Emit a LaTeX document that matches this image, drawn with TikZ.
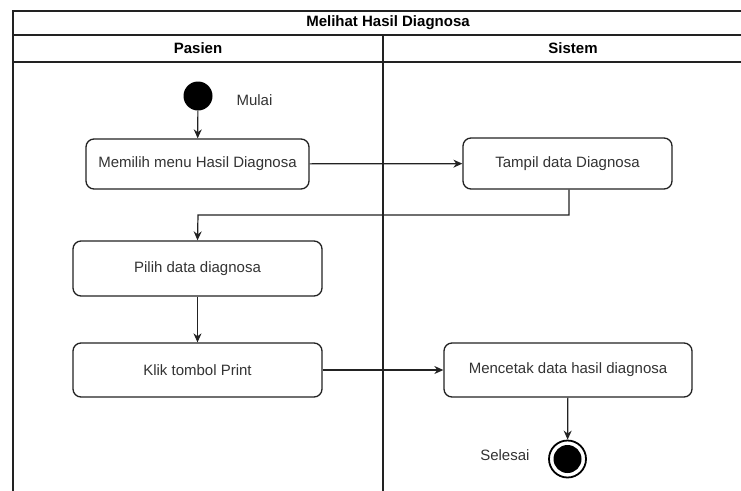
\documentclass[tikz,border=0pt]{standalone}
\usepackage{fontspec}
\setmainfont{Liberation Sans}
\usetikzlibrary{arrows.meta}
\definecolor{txt}{HTML}{333333}
\definecolor{frame}{HTML}{222222}
\tikzset{
  lane/.style={draw=frame, line width=1.6pt},
  action/.style={draw=frame, line width=1.3pt, rounded corners=8pt, fill=white,
    text=txt, font=\fontsize{15}{18}\selectfont, inner sep=0pt},
  flow/.style={draw=frame, line width=1.2pt, -{Stealth[length=9pt,width=8pt]}},
  startdot/.style={circle, fill=black, minimum size=29pt, inner sep=0pt},
  enddot/.style={circle, draw=black, line width=1.8pt, fill=white, minimum size=37pt, inner sep=0pt,
    path picture={\fill[black] (path picture bounding box.center) circle (14pt);}},
  caption/.style={text=txt, font=\fontsize{15}{18}\selectfont},
  head/.style={text=black, font=\bfseries\fontsize{15}{18}\selectfont}
}
\begin{document}
\begin{tikzpicture}[x=1pt, y=-1pt]
  \useasboundingbox (0,0) rectangle (741,490);
  \clip (0,0) rectangle (741,490);

  % swimlane frame
  \fill[white] (0,0) rectangle (741,490);
  \draw[lane] (13,520) -- (13,11) -- (763,11) -- (763,520);
  \draw[lane] (13,35) -- (763,35);
  \draw[lane] (13,62) -- (763,62);
  \draw[lane] (383,35) -- (383,520);
  \node[head] (title) at (388,23) {Melihat Hasil Diagnosa};
  \node[head] (pasien) at (198,48.5) {Pasien};
  \node[head] (sistem) at (573,48.5) {Sistem};

  % activities
  \node[startdot] (start) at (198,96) {};
  \node[caption, anchor=west] (mulai) at (233,100) {Mulai};

  \node[action, minimum width=223pt, minimum height=50pt] (menu) at (197.5,164) {Memilih menu Hasil Diagnosa};
  \node[action, minimum width=209pt, minimum height=51pt] (tampil) at (567.5,163.5) {Tampil data Diagnosa};
  \node[action, minimum width=249pt, minimum height=55pt] (pilih) at (197.5,268.5) {Pilih data diagnosa};
  \node[action, minimum width=249pt, minimum height=54pt] (klik) at (197.5,370) {Klik tombol Print};
  \node[action, minimum width=248pt, minimum height=54pt] (cetak) at (568,370) {Mencetak data hasil diagnosa};

  \node[enddot] (end) at (567.5,459) {};
  \node[caption, anchor=east] (selesai) at (533,455) {Selesai};

  % transitions
  \draw[flow] (start) -- (menu);
  \draw[flow] (menu) -- (tampil);
  \draw[flow] ([xshift=1.5pt]tampil.south) |- (198,215) -- (pilih.north);
  \draw[flow] (pilih) -- (klik);
  \draw[flow] (klik) -- (cetak);
  \draw[flow] (cetak) -- (end);
\end{tikzpicture}
\end{document}
